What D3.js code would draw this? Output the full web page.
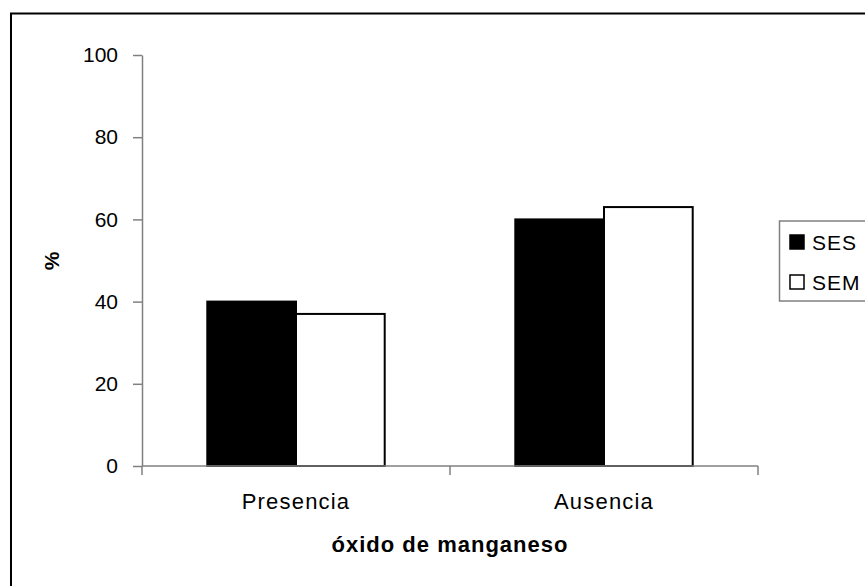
<!DOCTYPE html>
<html>
<head>
<meta charset="utf-8">
<script src="https://cdn.jsdelivr.net/npm/d3@7"></script>
<style>
  html, body { margin: 0; padding: 0; background: #fff; }
  svg { display: block; font-family: "Liberation Sans", Arial, sans-serif; }
</style>
</head>
<body>
<svg id="chart" width="865" height="586"></svg>
<script>
const categories = ["Presencia", "Ausencia"];
const seriesNames = ["SES", "SEM"];
const sesValues = [40, 60];
const semValues = [37, 63];
const yTicks = [0, 20, 40, 60, 80, 100];
const xTitle = "óxido de manganeso";
const yTitle = "%";

const seriesFill = { SES: "#000000", SEM: "#ffffff" };
const valuesBySeries = { SES: sesValues, SEM: semValues };

const svg = d3.select("#chart");

// outer chart border (extends beyond right & bottom edges)
svg.append("rect")
  .attr("x", 11).attr("y", 13.5)
  .attr("width", 900).attr("height", 600)
  .attr("fill", "none").attr("stroke", "#000").attr("stroke-width", 2);

const pLeft = 142, pRight = 758, pTop = 55, pBottom = 466;

const x0 = d3.scaleBand().domain(categories).range([pLeft, pRight]).paddingInner(0).paddingOuter(0);
const step = x0.bandwidth();
const x1 = d3.scaleBand().domain(seriesNames).range([step * 0.212, step * 0.788]).padding(0);
const y = d3.scaleLinear().domain([0, 100]).range([pBottom, pTop]);

// bars
const data = [];
categories.forEach((c, i) => seriesNames.forEach(s => data.push({ cat: c, series: s, value: valuesBySeries[s][i] })));

svg.append("g").selectAll("rect")
  .data(data).join("rect")
  .attr("x", d => x0(d.cat) + x1(d.series))
  .attr("y", d => y(d.value))
  .attr("width", x1.bandwidth())
  .attr("height", d => y(0) - y(d.value))
  .attr("fill", d => seriesFill[d.series])
  .attr("stroke", "#000")
  .attr("stroke-width", 2);

// y axis
const yAxis = d3.axisLeft(y).tickValues(yTicks).tickSize(9).tickPadding(15).tickSizeOuter(0);
const gy = svg.append("g").attr("transform", `translate(${pLeft},0)`).call(yAxis);
gy.select(".domain").attr("stroke", "#808080").attr("stroke-width", 1.5);
gy.selectAll(".tick line").attr("stroke", "#808080").attr("stroke-width", 1.5);
gy.selectAll(".tick text")
  .attr("font-size", 21).attr("fill", "#000")
  .attr("font-family", "Liberation Sans, Arial, sans-serif");

// x axis
const xAxisG = svg.append("g").attr("transform", `translate(0,${pBottom})`);
xAxisG.append("line")
  .attr("x1", pLeft).attr("x2", pRight).attr("y1", 0).attr("y2", 0)
  .attr("stroke", "#808080").attr("stroke-width", 1.5);
const xBounds = categories.map(c => x0(c)).concat([x0(categories[categories.length - 1]) + step]);
xAxisG.selectAll("line.tk").data(xBounds).join("line")
  .attr("class", "tk")
  .attr("x1", d => d).attr("x2", d => d).attr("y1", 0).attr("y2", 9)
  .attr("stroke", "#808080").attr("stroke-width", 1.5);
xAxisG.selectAll("text").data(categories).join("text")
  .attr("x", d => x0(d) + step / 2)
  .attr("y", 43)
  .attr("text-anchor", "middle")
  .attr("font-size", 22)
  .attr("letter-spacing", 1.2)
  .attr("fill", "#000")
  .text(d => d);

// axis titles
svg.append("text")
  .attr("x", (pLeft + pRight) / 2).attr("y", 552)
  .attr("text-anchor", "middle")
  .attr("font-size", 22).attr("font-weight", "bold")
  .attr("letter-spacing", 1)
  .text(xTitle);

svg.append("text")
  .attr("transform", "translate(59,261) rotate(-90)")
  .attr("text-anchor", "middle")
  .attr("font-size", 21).attr("font-weight", "bold")
  .text(yTitle);

// legend
const lg = svg.append("g");
lg.append("rect")
  .attr("x", 779.5).attr("y", 221)
  .attr("width", 120).attr("height", 80)
  .attr("fill", "#fff").attr("stroke", "#808080").attr("stroke-width", 1.5);
const items = lg.selectAll("g.item").data(seriesNames).join("g")
  .attr("class", "item")
  .attr("transform", (d, i) => `translate(790,${242 + i * 40})`);
items.append("rect")
  .attr("x", 0).attr("y", -7).attr("width", 14).attr("height", 14)
  .attr("fill", d => seriesFill[d]).attr("stroke", "#000").attr("stroke-width", 1.5);
items.append("text")
  .attr("x", 22).attr("y", 8)
  .attr("font-size", 21).attr("letter-spacing", 1)
  .text(d => d);
</script>
</body>
</html>
